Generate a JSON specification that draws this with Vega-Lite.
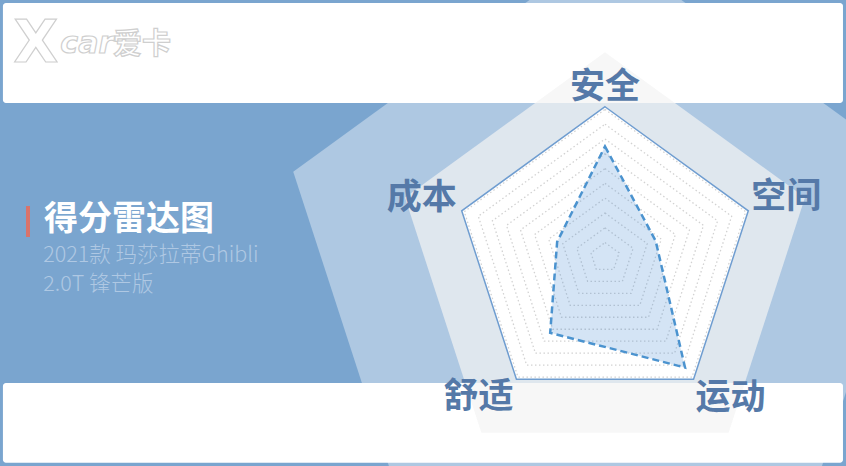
{
  "$schema": "https://vega.github.io/schema/vega-lite/v6.json",
  "width": 846,
  "height": 466,
  "padding": 0,
  "autosize": "none",
  "background": "#7aa5cf",
  "config": {"view": {"stroke": null}, "text": {"font": "Noto Sans CJK SC"}},
  "datasets": {
    "axes": [
      {"axis": "安全", "i": 0, "score": 75, "grid": [10, 20, 30, 40, 50, 60, 70, 80, 90, 100]},
      {"axis": "空间", "i": 1, "score": 36, "grid": [10, 20, 30, 40, 50, 60, 70, 80, 90, 100]},
      {"axis": "运动", "i": 2, "score": 92, "grid": [10, 20, 30, 40, 50, 60, 70, 80, 90, 100]},
      {"axis": "舒适", "i": 3, "score": 63, "grid": [10, 20, 30, 40, 50, 60, 70, 80, 90, 100]},
      {"axis": "成本", "i": 4, "score": 34, "grid": [10, 20, 30, 40, 50, 60, 70, 80, 90, 100]}
    ]
  },
  "data": {"values": [{}]},
  "layer": [
    {
      "data": {"name": "axes"},
      "transform": [
        {"calculate": "datum.i*2*PI/5", "as": "a"},
        {"calculate": "0.3+221.8*sin(datum.a)", "as": "px"},
        {"calculate": "-10.6+221.8*cos(datum.a)", "as": "py"}
      ],
      "mark": {"type": "line", "interpolate": "linear-closed", "fill": "#aec8e2", "strokeOpacity": 0, "clip": true},
      "encoding": {
        "x": {"field": "px", "type": "quantitative", "scale": {"domain": [-408.78, 162.84], "nice": false, "zero": false}, "axis": null},
        "y": {"field": "py", "type": "quantitative", "scale": {"domain": [-140.95, 173.92], "nice": false, "zero": false}, "axis": null},
        "order": {"field": "i", "type": "quantitative"}
      }
    },
    {
      "mark": {"type": "rect", "color": "#ffffff", "cornerRadius": 3},
      "encoding": {
        "x": {"datum": -406.8, "type": "quantitative"},
        "x2": {"datum": 160.8},
        "y": {"datum": 104.3, "type": "quantitative"},
        "y2": {"datum": 171.9}
      }
    },
    {
      "mark": {"type": "rect", "color": "#ffffff", "cornerRadius": 3},
      "encoding": {
        "x": {"datum": -406.8, "type": "quantitative"},
        "x2": {"datum": 160.8},
        "y": {"datum": -84.9, "type": "quantitative"},
        "y2": {"datum": -138.7}
      }
    },
    {
      "data": {"name": "axes"},
      "transform": [
        {"calculate": "datum.i*2*PI/5", "as": "a"},
        {"calculate": "142.1*sin(datum.a)", "as": "px"},
        {"calculate": "-3.5+142.1*cos(datum.a)", "as": "py"}
      ],
      "mark": {"type": "line", "interpolate": "linear-closed", "fill": "#f3f3f4", "fillOpacity": 0.7, "strokeOpacity": 0, "clip": true},
      "encoding": {
        "x": {"field": "px", "type": "quantitative"},
        "y": {"field": "py", "type": "quantitative"},
        "order": {"field": "i", "type": "quantitative"}
      }
    },
    {
      "data": {"name": "axes"},
      "transform": [
        {"calculate": "datum.i*2*PI/5", "as": "a"},
        {"calculate": "101.8*sin(datum.a)", "as": "px"},
        {"calculate": "101.8*cos(datum.a)", "as": "py"}
      ],
      "mark": {"type": "line", "interpolate": "linear-closed", "fill": "#ffffff", "stroke": "#6f9dd0", "strokeWidth": 1.5},
      "encoding": {
        "x": {"field": "px", "type": "quantitative"},
        "y": {"field": "py", "type": "quantitative"},
        "order": {"field": "i", "type": "quantitative"}
      }
    },
    {
      "data": {"name": "axes"},
      "transform": [
        {"flatten": ["grid"]},
        {"calculate": "datum.i*2*PI/5", "as": "a"},
        {"calculate": "datum.grid*sin(datum.a)", "as": "px"},
        {"calculate": "datum.grid*cos(datum.a)", "as": "py"}
      ],
      "mark": {"type": "line", "interpolate": "linear-closed", "stroke": "#d2d2d2", "strokeWidth": 1.3, "strokeDash": [1.5, 2.5]},
      "encoding": {
        "x": {"field": "px", "type": "quantitative"},
        "y": {"field": "py", "type": "quantitative"},
        "detail": {"field": "grid", "type": "nominal"},
        "order": {"field": "i", "type": "quantitative"}
      }
    },
    {
      "data": {"name": "axes"},
      "transform": [
        {"calculate": "datum.i*2*PI/5", "as": "a"},
        {"calculate": "datum.score*sin(datum.a)", "as": "px"},
        {"calculate": "datum.score*cos(datum.a)", "as": "py"}
      ],
      "mark": {"type": "line", "interpolate": "linear-closed", "fill": "#3d85d0", "fillOpacity": 0.22, "stroke": "#4b93cf", "strokeWidth": 2.5, "strokeDash": [7, 4]},
      "encoding": {
        "x": {"field": "px", "type": "quantitative"},
        "y": {"field": "py", "type": "quantitative"},
        "order": {"field": "i", "type": "quantitative"}
      }
    },
    {
      "data": {"name": "axes"},
      "transform": [
        {"filter": "datum.i == 0"},
        {"calculate": "datum.i*2*PI/5", "as": "a"},
        {"calculate": "101.8*sin(datum.a)", "as": "px"},
        {"calculate": "101.8*cos(datum.a)", "as": "py"}
      ],
      "mark": {"type": "text", "align": "center", "baseline": "middle", "dy": -20, "fontSize": 35, "fontWeight": "bold", "color": "#5579a8"},
      "encoding": {"x": {"field": "px", "type": "quantitative"}, "y": {"field": "py", "type": "quantitative"}, "text": {"field": "axis"}}
    },
    {
      "data": {"name": "axes"},
      "transform": [
        {"filter": "datum.i == 1"},
        {"calculate": "datum.i*2*PI/5", "as": "a"},
        {"calculate": "101.8*sin(datum.a)", "as": "px"},
        {"calculate": "101.8*cos(datum.a)", "as": "py"}
      ],
      "mark": {"type": "text", "align": "left", "baseline": "middle", "dx": 3, "dy": -14, "fontSize": 35, "fontWeight": "bold", "color": "#5579a8"},
      "encoding": {"x": {"field": "px", "type": "quantitative"}, "y": {"field": "py", "type": "quantitative"}, "text": {"field": "axis"}}
    },
    {
      "data": {"name": "axes"},
      "transform": [
        {"filter": "datum.i == 2"},
        {"calculate": "datum.i*2*PI/5", "as": "a"},
        {"calculate": "101.8*sin(datum.a)", "as": "px"},
        {"calculate": "101.8*cos(datum.a)", "as": "py"}
      ],
      "mark": {"type": "text", "align": "left", "baseline": "middle", "dx": 2, "dy": 19, "fontSize": 35, "fontWeight": "bold", "color": "#5579a8"},
      "encoding": {"x": {"field": "px", "type": "quantitative"}, "y": {"field": "py", "type": "quantitative"}, "text": {"field": "axis"}}
    },
    {
      "data": {"name": "axes"},
      "transform": [
        {"filter": "datum.i == 3"},
        {"calculate": "datum.i*2*PI/5", "as": "a"},
        {"calculate": "101.8*sin(datum.a)", "as": "px"},
        {"calculate": "101.8*cos(datum.a)", "as": "py"}
      ],
      "mark": {"type": "text", "align": "right", "baseline": "middle", "dx": -3, "dy": 18, "fontSize": 35, "fontWeight": "bold", "color": "#5579a8"},
      "encoding": {"x": {"field": "px", "type": "quantitative"}, "y": {"field": "py", "type": "quantitative"}, "text": {"field": "axis"}}
    },
    {
      "data": {"name": "axes"},
      "transform": [
        {"filter": "datum.i == 4"},
        {"calculate": "datum.i*2*PI/5", "as": "a"},
        {"calculate": "101.8*sin(datum.a)", "as": "px"},
        {"calculate": "101.8*cos(datum.a)", "as": "py"}
      ],
      "mark": {"type": "text", "align": "right", "baseline": "middle", "dx": -5, "dy": -13, "fontSize": 35, "fontWeight": "bold", "color": "#5579a8"},
      "encoding": {"x": {"field": "px", "type": "quantitative"}, "y": {"field": "py", "type": "quantitative"}, "text": {"field": "axis"}}
    },
    {
      "mark": {"type": "rect", "color": "#d9736b"},
      "encoding": {
        "x": {"datum": -391.2, "type": "quantitative"},
        "x2": {"datum": -388.5},
        "y": {"datum": 34.7, "type": "quantitative"},
        "y2": {"datum": 13.8}
      }
    },
    {
      "mark": {"type": "text", "align": "left", "baseline": "middle", "fontSize": 34, "fontWeight": "bold", "color": "#ffffff"},
      "encoding": {"x": {"datum": -379, "type": "quantitative"}, "y": {"datum": 25.6, "type": "quantitative"}, "text": {"value": "得分雷达图"}}
    },
    {
      "mark": {"type": "text", "align": "left", "baseline": "middle", "fontSize": 21.5, "fontWeight": 300, "color": "#afc8e3"},
      "encoding": {"x": {"datum": -379.5, "type": "quantitative"}, "y": {"datum": 0.9, "type": "quantitative"}, "text": {"value": "2021款 玛莎拉蒂Ghibli"}}
    },
    {
      "mark": {"type": "text", "align": "left", "baseline": "middle", "fontSize": 21.5, "fontWeight": 300, "color": "#afc8e3"},
      "encoding": {"x": {"datum": -379.5, "type": "quantitative"}, "y": {"datum": -18.8, "type": "quantitative"}, "text": {"value": "2.0T 锋芒版"}}
    },
    {
      "mark": {"type": "text", "align": "center", "baseline": "middle", "fontSize": 58, "fontWeight": "bold", "font": "DejaVu Sans", "color": "#ffffff", "stroke": "#cfcfcf", "strokeWidth": 1.2},
      "encoding": {"x": {"datum": -384.5, "type": "quantitative"}, "y": {"datum": 143.5, "type": "quantitative"}, "text": {"value": "X"}}
    },
    {
      "mark": {"type": "text", "align": "left", "baseline": "middle", "fontSize": 30, "fontWeight": "bold", "fontStyle": "italic", "font": "DejaVu Sans", "color": "#ffffff", "stroke": "#cfcfcf", "strokeWidth": 1.2},
      "encoding": {"x": {"datum": -368, "type": "quantitative"}, "y": {"datum": 144.2, "type": "quantitative"}, "text": {"value": "car"}}
    },
    {
      "mark": {"type": "text", "align": "left", "baseline": "middle", "fontSize": 29, "fontWeight": "bold", "color": "#ffffff", "stroke": "#cfcfcf", "strokeWidth": 1.2},
      "encoding": {"x": {"datum": -332.5, "type": "quantitative"}, "y": {"datum": 143.5, "type": "quantitative"}, "text": {"value": "爱卡"}}
    }
  ]
}
